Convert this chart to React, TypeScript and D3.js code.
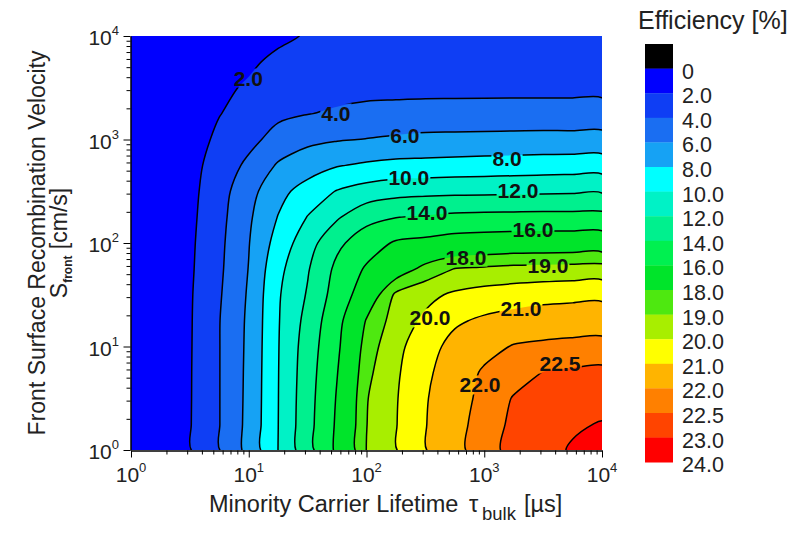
import { useEffect, useRef } from "react";
import * as d3 from "d3";

// grid of the simulation: bulk lifetime (µs) and front SRV (cm/s), quarter-decade steps
const tauGrid = [1, 1.778, 3.162, 5.623, 10, 17.78, 31.62, 56.23, 100, 177.8, 316.2, 562.3, 1000, 1778, 3162, 5623, 10000];
const sGrid = [1, 1.778, 3.162, 5.623, 10, 17.78, 31.62, 56.23, 100, 177.8, 316.2, 562.3, 1000, 1778, 3162, 5623, 10000];

// efficiency [%], one row per S value (S = 1 first), one column per tau value
const efficiency = [
  [0.6, 1.3, 1.9, 3.95, 6.62, 10.02, 13.33, 16.38, 19.02, 19.96, 20.96, 21.8, 22.34, 22.63, 22.83, 23.05, 23.2],
  [0.6, 1.3, 1.9, 3.95, 6.55, 9.99, 13.34, 16.28, 18.98, 19.96, 20.96, 21.77, 22.28, 22.59, 22.74, 22.93, 23.03],
  [0.6, 1.3, 1.88, 3.95, 6.5, 9.97, 13.26, 16.14, 18.94, 19.93, 20.92, 21.68, 22.2, 22.53, 22.63, 22.72, 22.8],
  [0.6, 1.28, 1.87, 3.95, 6.46, 9.95, 13.14, 15.94, 18.75, 19.85, 20.82, 21.49, 22.12, 22.3, 22.51, 22.56, 22.6],
  [0.6, 1.27, 1.85, 3.95, 6.41, 9.92, 12.97, 15.71, 18.5, 19.71, 20.63, 21.3, 21.69, 22.06, 22.15, 22.21, 22.25],
  [0.6, 1.25, 1.83, 3.94, 6.35, 9.87, 12.64, 15.48, 18.09, 19.46, 20.19, 20.86, 21.16, 21.39, 21.54, 21.59, 21.63],
  [0.58, 1.23, 1.8, 3.8, 6.23, 9.79, 12.18, 14.91, 17.05, 19.2, 19.73, 20.16, 20.41, 20.53, 20.66, 20.73, 20.77],
  [0.56, 1.2, 1.72, 3.65, 6.06, 9.46, 11.83, 14.47, 16.23, 17.26, 18.36, 19.03, 19.16, 19.3, 19.34, 19.39, 19.43],
  [0.54, 1.15, 1.65, 3.54, 5.92, 8.79, 11.18, 13.57, 15.09, 16.22, 16.51, 16.88, 17.04, 17.14, 17.17, 17.19, 17.22],
  [0.52, 1.1, 1.55, 3.39, 5.7, 8.08, 10.07, 11.77, 13.4, 13.95, 14.21, 14.48, 14.55, 14.6, 14.63, 14.63, 14.63],
  [0.5, 1.05, 1.45, 3.2, 5.33, 7.36, 8.86, 10.1, 10.82, 11.31, 11.46, 11.53, 11.58, 11.63, 11.68, 11.74, 11.79],
  [0.48, 1.0, 1.35, 2.85, 4.42, 6.22, 7.0, 7.88, 8.3, 8.56, 8.61, 8.73, 8.82, 8.91, 9.0, 9.06, 9.11],
  [0.46, 0.95, 1.3, 2.31, 3.44, 4.72, 5.59, 5.87, 6.06, 6.29, 6.46, 6.5, 6.53, 6.57, 6.61, 6.6, 6.64],
  [0.44, 0.9, 1.25, 1.95, 2.57, 3.6, 3.95, 4.22, 4.5, 4.63, 4.75, 4.77, 4.81, 4.83, 4.84, 4.85, 4.88],
  [0.42, 0.88, 1.2, 1.75, 2.15, 2.93, 3.33, 3.4, 3.45, 3.45, 3.45, 3.45, 3.45, 3.45, 3.45, 3.45, 3.45],
  [0.4, 0.85, 1.15, 1.6, 1.8, 2.27, 2.71, 2.95, 3.05, 3.1, 3.12, 3.14, 3.15, 3.16, 3.17, 3.18, 3.18],
  [0.38, 0.8, 1.1, 1.45, 1.55, 1.75, 2.1, 2.35, 2.5, 2.62, 2.72, 2.8, 2.86, 2.9, 2.94, 2.97, 2.98],
];

const levels = [0, 2, 4, 6, 8, 10, 12, 14, 16, 18, 19, 20, 21, 22, 22.5, 23, 24];
const levelLabels = ["0", "2.0", "4.0", "6.0", "8.0", "10.0", "12.0", "14.0", "16.0", "18.0", "19.0", "20.0", "21.0", "22.0", "22.5", "23.0", "24.0"];
// first colour is the "below 0" box of the legend, then one per band
const bandColors = [
  "#000000", "#0000ff", "#0f3ef4", "#1a6ef2", "#16a2f4", "#00ffff", "#00f2c6", "#00f08e", "#00f050",
  "#00e42a", "#4ee810", "#a8ee00", "#ffff00", "#ffb400", "#ff8000", "#ff4400", "#ff0000",
];
const lineLevels = [2, 4, 6, 8, 10, 12, 14, 16, 18, 19, 20, 21, 22, 22.5, 23];

const labelTexts = ["2.0", "4.0", "6.0", "8.0", "10.0", "12.0", "14.0", "16.0", "18.0", "19.0", "20.0", "21.0", "22.0", "22.5"];
const labelTau = [9.9, 55, 212, 1560, 229, 1936, 326, 2594, 700, 3478, 346, 2052, 920, 4400];
const labelS = [3926, 1803, 1105, 662, 434, 325, 199, 136, 73, 61, 18.9, 23.5, 4.25, 6.78];

const decades = [1, 10, 100, 1000, 10000];
const decadeExp = ["0", "1", "2", "3", "4"];

const font = "'Liberation Sans', Arial, sans-serif";

export default function App() {
  const ref = useRef<SVGSVGElement>(null);

  useEffect(() => {
    const svg = d3.select(ref.current);
    svg.selectAll("*").remove();

    const plot = { left: 131, right: 602, top: 36, bottom: 450 };
    const x = d3.scaleLog().domain([1, 1e4]).range([plot.left, plot.right]);
    const y = d3.scaleLog().domain([1, 1e4]).range([plot.bottom, plot.top]);

    const n = tauGrid.length;
    const m = sGrid.length;
    const gx = d3.scaleLinear().domain([0.5, n - 0.5]).range([x(tauGrid[0]), x(tauGrid[n - 1])]);
    const gy = d3.scaleLinear().domain([0.5, m - 0.5]).range([y(sGrid[0]), y(sGrid[m - 1])]);

    const contours = d3.contours().size([n, m]).thresholds(levels)(efficiency.flat());
    const line = d3.line().curve(d3.curveCatmullRomClosed.alpha(0.5));
    const toPath = (geom: any) =>
      geom.coordinates
        .map((poly: any) =>
          poly.map((ring: any) => line(ring.slice(0, -1).map(([a, b]: number[]) => [gx(a), gy(b)]))).join("")
        )
        .join("");

    const defs = svg.append("defs");
    defs
      .append("clipPath")
      .attr("id", "plotClip")
      .append("rect")
      .attr("x", plot.left)
      .attr("y", plot.top)
      .attr("width", plot.right - plot.left)
      .attr("height", plot.bottom - plot.top);

    const field = svg.append("g").attr("clip-path", "url(#plotClip)");
    field
      .selectAll("path")
      .data(contours)
      .enter()
      .append("path")
      .attr("d", (d) => toPath(d))
      .attr("fill", (d, i) => bandColors[i + 1])
      .attr("fill-rule", "evenodd");

    // contour labels first (to know their boxes), lines get a mask with holes
    const labelG = svg.append("g");
    const boxes: { x: number; y: number; w: number; h: number }[] = [];
    labelTexts.forEach((t, i) => {
      const txt = labelG
        .append("text")
        .attr("x", x(labelTau[i]))
        .attr("y", y(labelS[i]))
        .attr("text-anchor", "middle")
        .attr("dominant-baseline", "central")
        .attr("font-family", font)
        .attr("font-weight", "bold")
        .attr("font-size", 21)
        .attr("fill", "#111")
        .text(t);
      const bb = (txt.node() as SVGTextElement).getBBox();
      boxes.push({ x: bb.x - 1, y: bb.y + 2, w: bb.width + 2, h: bb.height - 4 });
    });

    const mask = defs
      .append("mask")
      .attr("id", "labelMask")
      .attr("maskUnits", "userSpaceOnUse")
      .attr("x", 0)
      .attr("y", 0)
      .attr("width", 790)
      .attr("height", 533);
    mask.append("rect").attr("width", 790).attr("height", 533).attr("fill", "white");
    mask
      .selectAll("rect.hole")
      .data(boxes)
      .enter()
      .append("rect")
      .attr("class", "hole")
      .attr("x", (d) => d.x)
      .attr("y", (d) => d.y)
      .attr("width", (d) => d.w)
      .attr("height", (d) => d.h)
      .attr("fill", "black");

    const lineG = svg
      .insert("g", () => labelG.node() as any)
      .attr("clip-path", "url(#plotClip)")
      .append("g")
      .attr("mask", "url(#labelMask)");
    lineG
      .selectAll("path")
      .data(contours.filter((c) => lineLevels.includes(c.value)))
      .enter()
      .append("path")
      .attr("d", (d) => toPath(d))
      .attr("fill", "none")
      .attr("stroke", "#000")
      .attr("stroke-width", 1.5)
      .attr("stroke-linejoin", "round");

    // axes
    const minor = x.ticks().filter((v) => !decades.includes(v));
    const xAxis = svg.append("g").attr("transform", `translate(0,${plot.bottom + 0.5})`);
    xAxis.call(d3.axisBottom(x).tickValues(minor).tickSize(4).tickSizeOuter(0).tickFormat(() => ""));
    xAxis.append("g").call(d3.axisBottom(x).tickValues(decades).tickSize(7).tickSizeOuter(0).tickFormat(() => ""));
    const yAxis = svg.append("g").attr("transform", `translate(${plot.left - 0.5},0)`);
    yAxis.call(d3.axisLeft(y).tickValues(minor).tickSize(4).tickSizeOuter(0).tickFormat(() => ""));
    yAxis.append("g").call(d3.axisLeft(y).tickValues(decades).tickSize(7).tickSizeOuter(0).tickFormat(() => ""));
    svg.selectAll(".domain").attr("stroke", "#000");
    svg.selectAll(".tick line").attr("stroke", "#000");

    decades.forEach((v, i) => {
      const tx = svg
        .append("text")
        .attr("x", x(v))
        .attr("y", 482)
        .attr("text-anchor", "middle")
        .attr("font-family", font)
        .attr("font-size", 21)
        .attr("fill", "#222");
      tx.append("tspan").text("10");
      tx.append("tspan").attr("dy", -10).attr("font-size", 13).text(decadeExp[i]);

      const ty = svg
        .append("text")
        .attr("x", 119)
        .attr("y", y(v) + 9)
        .attr("text-anchor", "end")
        .attr("font-family", font)
        .attr("font-size", 21)
        .attr("fill", "#222");
      ty.append("tspan").text("10");
      ty.append("tspan").attr("dy", -10).attr("font-size", 13).text(decadeExp[i]);
    });

    // axis titles
    const xt = svg
      .append("text")
      .attr("x", 209)
      .attr("y", 512)
      .attr("font-family", font)
      .attr("font-size", 23.5)
      .attr("fill", "#222");
    xt.append("tspan").text("Minority Carrier Lifetime");
    xt.append("tspan").attr("x", 469).text("τ");
    xt.append("tspan").attr("x", 482).attr("dy", 8).attr("font-size", 18.5).text("bulk");
    xt.append("tspan").attr("x", 524).attr("dy", -8).text("[µs]");

    const yt = svg
      .append("g")
      .attr("transform", "translate(45,243) rotate(-90)")
      .attr("font-family", font)
      .attr("font-size", 23)
      .attr("fill", "#222");
    yt.append("text").attr("text-anchor", "middle").text("Front Surface Recombination Velocity");
    const yt2 = yt.append("text").attr("text-anchor", "middle").attr("y", 22);
    yt2.append("tspan").text("S");
    yt2.append("tspan").attr("dy", 5).attr("font-size", 12).attr("font-weight", "bold").text("front");
    yt2.append("tspan").attr("dy", -5).text(" [cm/s]");

    // legend
    const lg = svg.append("g");
    const boxTop = 44;
    const boxH = 24.6;
    lg.selectAll("rect")
      .data(bandColors)
      .enter()
      .append("rect")
      .attr("x", 645)
      .attr("y", (d, i) => boxTop + i * boxH)
      .attr("width", 28)
      .attr("height", boxH + 0.3)
      .attr("fill", (d) => d);
    lg.selectAll("text.lab")
      .data(levelLabels)
      .enter()
      .append("text")
      .attr("class", "lab")
      .attr("x", 682)
      .attr("y", (d, i) => boxTop + (i + 1) * boxH + 10)
      .attr("font-family", font)
      .attr("font-size", 21.5)
      .attr("fill", "#222")
      .text((d) => d);
    lg.append("text")
      .attr("x", 638)
      .attr("y", 29)
      .attr("font-family", font)
      .attr("font-size", 25)
      .attr("fill", "#222")
      .text("Efficiency [%]");
  }, []);

  return (
    <svg
      ref={ref}
      width={790}
      height={533}
      style={{ position: "absolute", left: 0, top: 0, background: "#fff" }}
    />
  );
}
